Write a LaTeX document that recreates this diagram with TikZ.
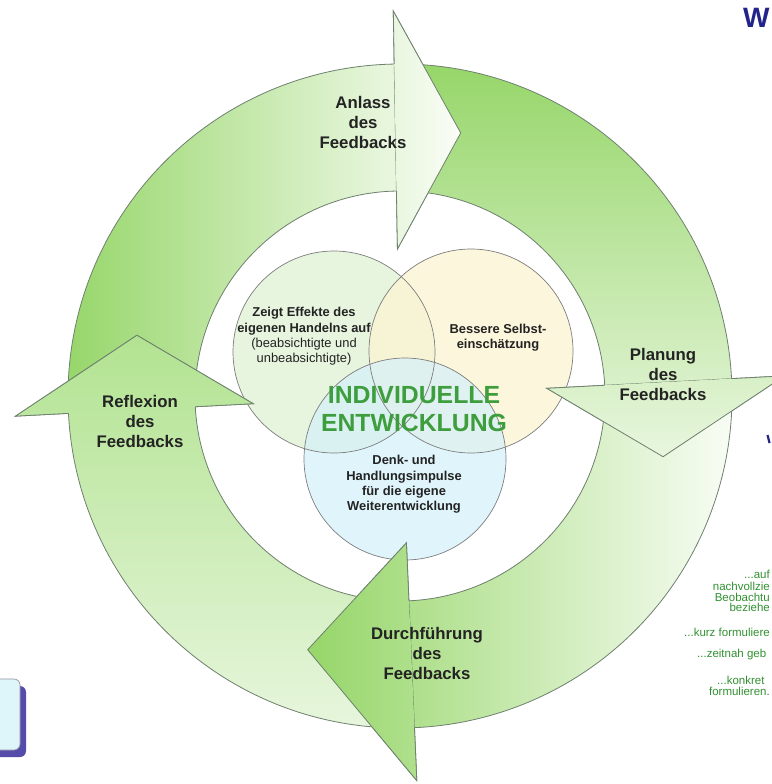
\documentclass[tikz,border=0pt]{standalone}
\usepackage{fontspec}
\setmainfont{Liberation Sans}
\definecolor{outlc}{RGB}{110,128,110}
\definecolor{labc}{RGB}{35,35,35}
\definecolor{gDark}{RGB}{150,214,105}
\definecolor{gMid}{RGB}{178,227,145}
\definecolor{gLight}{RGB}{232,246,222}
\definecolor{gWhite}{RGB}{250,253,247}
\definecolor{cA}{RGB}{226,242,214}
\definecolor{cB}{RGB}{252,245,212}
\definecolor{cC}{RGB}{212,241,250}
\definecolor{circline}{RGB}{125,125,125}
\definecolor{centc}{RGB}{62,158,62}
\definecolor{sidec}{RGB}{50,145,50}
\definecolor{headc}{RGB}{35,35,140}
\definecolor{shadowc}{RGB}{85,75,170}
\definecolor{boxc}{RGB}{222,245,250}
\definecolor{boxline}{RGB}{150,150,160}
\newcommand{\ROut}{332}
\newcommand{\RIn}{205}
\newcommand{\RCo}{385}
\newcommand{\RCi}{147}
\newcommand{\RTip}{270}
\newcommand{\ArrPath}[3]{(#1:\ROut) arc[start angle=#1,end angle=#2,radius=\ROut] -- (#2:\RCo) -- (#3:\RTip) -- (#2:\RCi) -- (#2:\RIn) arc[start angle=#2,end angle=#1,radius=\RIn] -- cycle}
\newcommand{\ArrHead}[3]{(#2:\RCo) -- (#3:\RTip) -- (#2:\RCi) -- cycle}
\newcommand{\ArrEdge}[3]{(#2:\ROut) -- (#2:\RCo) -- (#3:\RTip) -- (#2:\RCi) -- (#2:\RIn)}
\newcommand{\ArrBody}[4]{\shade[#4] \ArrPath{#1}{#2}{#3}; \draw[outl] \ArrPath{#1}{#2}{#3};}
\newcommand{\ArrTop}[4]{\begin{scope}\clip \ArrHead{#1}{#2}{#3}; \shade[#4] \ArrPath{#1}{#2}{#3};\end{scope}\draw[outl] \ArrEdge{#1}{#2}{#3};}
\begin{document}
\begin{tikzpicture}[x=1pt,y=-1pt,
  outl/.style={draw=outlc, line width=0.8pt, line join=miter},
  circ/.style={draw=circline, line width=0.7pt},
  lab/.style={font=\bfseries\fontsize{16.8}{20}\selectfont, text=labc, align=center, inner sep=0pt},
  ctext/.style={font=\fontsize{12.9}{15.3}\selectfont, text=labc, align=center, inner sep=0pt},
  bigtext/.style={font=\bfseries\fontsize{24.8}{28}\selectfont, text=centc, align=center, inner sep=0pt},
  side/.style={font=\fontsize{11.5}{13}\selectfont, text=sidec, anchor=west, inner sep=0pt},
  sidecut/.style={font=\fontsize{11.5}{13}\selectfont, text=sidec, anchor=east, inner sep=0pt}]
\useasboundingbox (0,0) rectangle (771,784);
\fill[white] (0,0) rectangle (771,784);
% Venn circles
\fill[cA, fill opacity=0.8] (334,352) circle[radius=101];
\fill[cB, fill opacity=0.8] (471,351) circle[radius=102];
\fill[cC, fill opacity=0.7] (405,459) circle[radius=101];
\draw[circ] (334,352) circle[radius=101];
\draw[circ] (471,351) circle[radius=102];
\draw[circ] (405,459) circle[radius=101];
% cycle arrows
\begin{scope}[shift={(400,396)}]
\ArrBody{177}{269}{283}{left color=gDark,right color=gWhite}
\ArrBody{269}{357}{373}{top color=gDark,bottom color=gLight}
\ArrBody{-3}{87.5}{110}{left color=gDark,right color=gWhite}
\ArrBody{87.5}{177}{193}{top color=gMid,bottom color=gLight}
\ArrTop{177}{269}{283}{left color=gDark,right color=gWhite}
\ArrTop{269}{357}{373}{top color=gDark,bottom color=gLight}
\ArrTop{-3}{87.5}{110}{left color=gDark,right color=gWhite}
\ArrTop{87.5}{177}{193}{top color=gMid,bottom color=gLight}
\end{scope}
% arrow labels
\node[lab] (anlass) at (363,122) {Anlass\\des\\Feedbacks};
\node[lab] (planung) at (663,374) {Planung\\des\\Feedbacks};
\node[lab] (durch) at (427,653) {Durchführung\\des\\Feedbacks};
\node[lab] (reflex) at (140,421) {Reflexion\\des\\Feedbacks};
% circle texts
\node[ctext] (ta) at (304,336.5) {\textbf{Zeigt Effekte des}\\\textbf{eigenen Handelns auf}\\(beabsichtigte und\\unbeabsichtigte)};
\node[ctext, font=\bfseries\fontsize{12.9}{15.3}\selectfont] (tb) at (498,338) {Bessere Selbst-\\einschätzung};
\node[ctext, font=\bfseries\fontsize{12.9}{15.3}\selectfont] (tc) at (404,484.5) {Denk- und\\Handlungsimpulse\\für die eigene\\Weiterentwicklung};
\node[bigtext] (center) at (414,409) {INDIVIDUELLE\\ENTWICKLUNG};
% heading letter at the top right, and a glyph stroke cut by the right edge
\node[font=\bfseries\fontsize{28}{30}\selectfont, text=headc, anchor=north west, inner sep=0pt] (hw) at (743,8) {W};
\draw[headc, line width=2.2pt] (767.5,435) -- (769.5,443);
% right side texts
\node[sidecut] (s1) at (770,574) {...auf};
\node[sidecut] (s2) at (770,586) {nachvollzie};
\node[sidecut] (s3) at (770,597) {Beobachtu};
\node[sidecut] (s4) at (770,607) {beziehe};
\node[sidecut] (s5) at (770,632) {...kurz formuliere};
\node[side] (s6) at (697,655) {...zeitnah geb};
\node[side] (s7) at (717,680) {...konkret};
\node[sidecut] (s8) at (770,691) {formulieren.};
% bottom-left box
\fill[shadowc, rounded corners=6pt] (-20,686) rectangle (26,757);
\draw[fill=boxc, draw=boxline, line width=0.7pt, rounded corners=6pt] (-20,679) rectangle (20,750);
\end{tikzpicture}
\end{document}
